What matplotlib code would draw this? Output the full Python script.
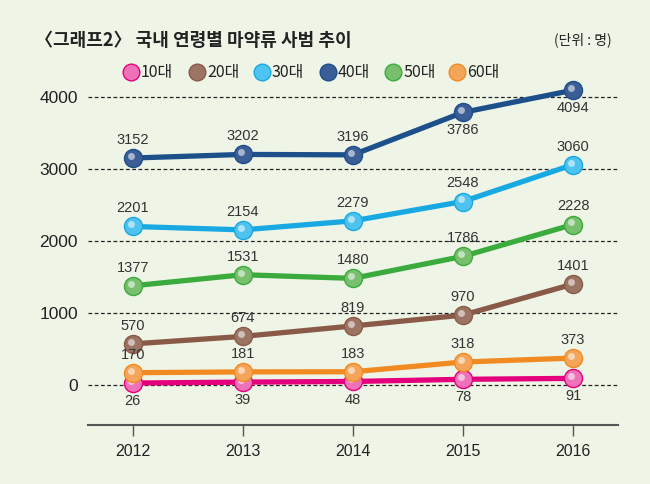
import matplotlib
matplotlib.use("Agg")
import matplotlib.pyplot as plt
from matplotlib import font_manager
from matplotlib.transforms import offset_copy

names = {f.name for f in font_manager.fontManager.ttflist}
num_font = ['Liberation Sans Narrow', 'Noto Sans CJK KR'] if 'Liberation Sans Narrow' in names else ['Liberation Sans', 'Noto Sans CJK KR']
plt.rcParams['font.family'] = ['Noto Sans CJK KR', 'DejaVu Sans']

years = [2012, 2013, 2014, 2015, 2016]
series_names = ['10대', '20대', '30대', '40대', '50대', '60대']
v10 = [26, 39, 48, 78, 91]
v20 = [570, 674, 819, 970, 1401]
v30 = [2201, 2154, 2279, 2548, 3060]
v40 = [3152, 3202, 3196, 3786, 4094]
v50 = [1377, 1531, 1480, 1786, 2228]
v60 = [170, 181, 183, 318, 373]
values = [v10, v20, v30, v40, v50, v60]
yticks = [0, 1000, 2000, 3000, 4000]

line_colors = ['#e4007c', '#8a5a48', '#19a9e2', '#1d4f8b', '#3aab3c', '#f28a22']
marker_colors = ['#ee72b8', '#9c7464', '#4fc3ef', '#3b5e97', '#78bf6e', '#f5a55a']
# label placement: +1 above, -1 below
placements = [
    [-1, -1, -1, -1, -1],
    [1, 1, 1, 1, 1],
    [1, 1, 1, 1, 1],
    [1, 1, 1, -1, -1],
    [1, 1, 1, 1, 1],
    [1, 1, 1, 1, 1],
]

bg = '#eef5e7'
fig = plt.figure(figsize=(6.5, 4.84), dpi=100, facecolor=bg)
ax = fig.add_axes([0.135, 0.122, 0.816, 0.752], facecolor=bg)
ax.set_xlim(2011.59, 2016.41)
ax.set_ylim(-556, 4500)

for y in yticks:
    ax.axhline(y, color='#222222', lw=0.9, ls=(0, (3, 2)), zorder=1)

order = [0, 5, 1, 4, 2, 3]
for i in order:
    vals = values[i]
    ax.plot(years, vals, color=line_colors[i], lw=3.8, zorder=2 + i * 0.1, solid_capstyle='round')
    ax.plot(years, vals, ls='none', marker='o', ms=13, mfc=marker_colors[i],
            mec=line_colors[i], mew=1.0, zorder=3 + i * 0.1)
    hl = offset_copy(ax.transData, fig=fig, x=-1.5, y=1.5, units='points')
    ax.plot(years, vals, ls='none', marker='o', ms=5, mfc='white', mec='none',
            alpha=0.55, transform=hl, zorder=3.05 + i * 0.1)
    for x, v, p in zip(years, vals, placements[i]):
        ax.annotate(str(v), (x, v), xytext=(0, 8 * p), textcoords='offset points',
                    ha='center', va='bottom' if p > 0 else 'top', fontsize=10.5,
                    color='#333333', family=num_font, zorder=6)

for s in ['left', 'right', 'top']:
    ax.spines[s].set_visible(False)
ax.spines['bottom'].set_color('#555555')
ax.spines['bottom'].set_linewidth(1.5)
ax.set_xticks(years)
ax.set_xticklabels([str(y) for y in years], fontsize=11.5, family=num_font, color='#222222')
ax.tick_params(axis='x', length=8, width=1, color='#555555', pad=6, direction='out')
ax.set_yticks(yticks)
ax.set_yticklabels([str(y) for y in yticks], fontsize=12.5, family=num_font, color='#222222')
ax.tick_params(axis='y', length=0, pad=7)

fig.text(35 / 650, 1 - 40 / 484, '〈그래프2〉 국내 연령별 마약류 사범 추이', fontsize=13,
         fontweight='bold', color='#222222', va='center', ha='left')
fig.text(612 / 650, 1 - 40 / 484, '(단위 : 명)', fontsize=10, color='#222222',
         va='center', ha='right')

# legend
leg_x = [131, 197, 262, 328, 393, 457]
for i, name in enumerate(series_names):
    x = leg_x[i] / 650
    y = 1 - 72 / 484
    fig.lines.append(plt.Line2D([x], [y], marker='o', ms=12, mfc=marker_colors[i],
                                mec=line_colors[i], mew=1.0, transform=fig.transFigure))
    fig.text(x + 10 / 650, y, name, fontsize=11.5, va='center', ha='left', color='#222222')

fig.savefig('out.png', dpi=100, facecolor=bg)
